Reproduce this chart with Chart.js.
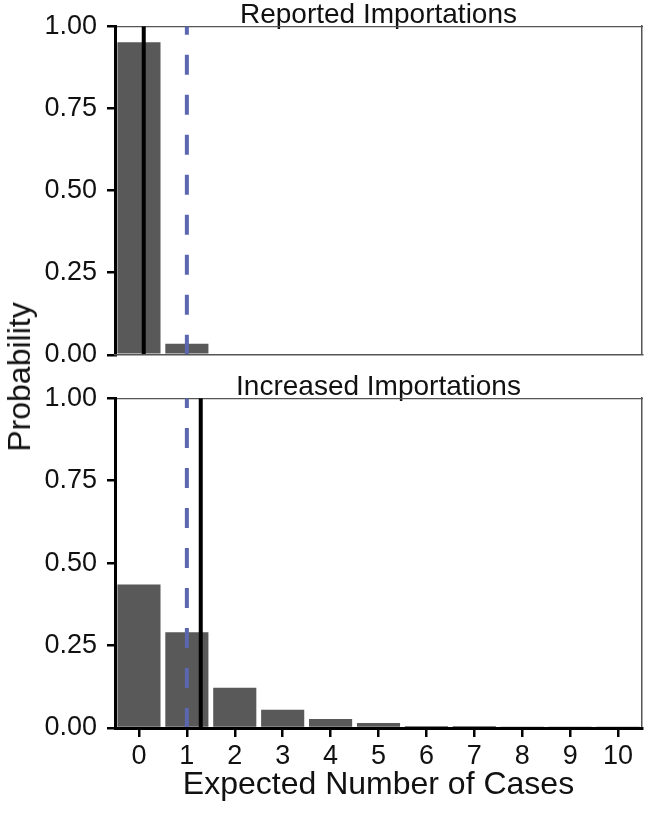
<!DOCTYPE html>
<html>
<head>
<meta charset="utf-8">
<script src="https://cdn.jsdelivr.net/npm/chart.js@4.4.1/dist/chart.umd.min.js"></script>
<style>
  body { margin: 0; background: #fff; }
  #wrap { position: relative; width: 650px; height: 823px; font-family: "Liberation Sans", Arial, Helvetica, sans-serif; }
  canvas { position: absolute; left: 0; }
  #topPanel { top: 0; }
  #bottomPanel { top: 372px; }
  #yTitle {
    position: absolute; left: 19px; top: 377px;
    transform: translate(-50%, -50%) rotate(-90deg);
    font-size: 32px; line-height: 1; white-space: nowrap; color: #111;
  }
</style>
</head>
<body>
<div id="wrap">
  <canvas id="topPanel" width="650" height="381"></canvas>
  <canvas id="bottomPanel" width="650" height="451"></canvas>
  <div id="yTitle">Probability</div>
</div>
<script>
// number of cases on the x axis
const cases = [0, 1, 2, 3, 4, 5, 6, 7, 8, 9, 10];
// probability of each count
const reportedProb = [0.951, 0.034, 0, 0, 0, 0, 0, 0, 0, 0, 0];
const increasedProb = [0.435, 0.29, 0.122, 0.055, 0.027, 0.015, 0.006, 0.006, 0.003, 0.002, 0.001];
const yTicks = [0, 0.25, 0.5, 0.75, 1];
// vertical reference lines
const threshold = 1;        // dashed blue
const reportedMean = 0.1;   // solid black, top panel
const increasedMean = 1.29; // solid black, bottom panel

Chart.defaults.font.family = '"Liberation Sans", Arial, Helvetica, sans-serif';
Chart.defaults.color = '#111';

function vline(x, color, dash) {
    return {
        type: 'line',
        data: [{ x: x, y: 0 }, { x: x, y: 1 }],
        borderColor: color,
        borderWidth: 4,
        borderDash: dash,
        borderCapStyle: 'butt',
        pointRadius: 0,
        order: 0
    };
}

function panel(id, title, probs, mean, withXAxis) {
    new Chart(document.getElementById(id), {
        type: 'bar',
        data: {
            datasets: [
                vline(mean, '#000', []),
                vline(threshold, '#5b67ae', [20, 20]),
                {
                    type: 'bar',
                    data: cases.map((c, i) => ({ x: c, y: probs[i] })),
                    backgroundColor: '#595959',
                    borderWidth: 0,
                    barPercentage: 0.9,
                    categoryPercentage: 1,
                    order: 1
                }
            ]
        },
        options: {
            responsive: false,
            animation: false,
            devicePixelRatio: 1,
            layout: { padding: { left: 0, right: 8, top: 0, bottom: 0 } },
            plugins: { legend: { display: false }, tooltip: { enabled: false } },
            scales: {
                x: {
                    type: 'linear',
                    position: 'bottom',
                    offset: false,
                    min: -0.5,
                    max: 10.5,
                    afterBuildTicks: s => { s.ticks = cases.map(v => ({ value: v })); },
                    ticks: { display: withXAxis, font: { size: 27 }, padding: 3, maxRotation: 0, autoSkip: false },
                    grid: { display: withXAxis, offset: false, z: 1, drawOnChartArea: false, drawTicks: withXAxis, tickLength: 9, lineWidth: 2.5, tickWidth: 2.5, tickColor: '#000' },
                    border: { display: true, z: 1, color: withXAxis ? '#000' : '#555', width: withXAxis ? 3 : 1.5 },
                    title: { display: withXAxis, text: 'Expected Number of Cases', font: { size: 32 }, padding: { top: 0, bottom: 19 } },
                    afterFit: s => { s.height = withXAxis ? 95 : 18; }
                },
                x2: {
                    type: 'linear',
                    position: 'top',
                    offset: false,
                    min: -0.5,
                    max: 10.5,
                    ticks: { display: false },
                    grid: { display: false, offset: false },
                    border: { display: true, color: '#555', width: 1.2 },
                    title: { display: true, text: title, font: { size: 28, lineHeight: 1.1 }, padding: 0 },
                    afterFit: s => { s.height = 26; }
                },
                y: {
                    min: 0,
                    max: 1,
                    afterBuildTicks: s => { s.ticks = yTicks.map(v => ({ value: v })); },
                    ticks: { font: { size: 27 }, padding: 10, callback: v => v.toFixed(2) },
                    grid: { display: true, drawOnChartArea: false, drawTicks: true, tickLength: 8, lineWidth: 2.5, tickColor: '#000' },
                    border: { display: true, color: '#000', width: 3 },
                    afterFit: s => { s.width = 115; }
                },
                y2: {
                    position: 'right',
                    min: 0,
                    max: 1,
                    ticks: { display: false },
                    grid: { display: false },
                    border: { display: true, color: '#555', width: 1.5 },
                    afterFit: s => { s.width = 0; }
                }
            }
        }
    });
}

panel('topPanel', 'Reported Importations', reportedProb, reportedMean, false);
panel('bottomPanel', 'Increased Importations', increasedProb, increasedMean, true);
</script>
</body>
</html>
